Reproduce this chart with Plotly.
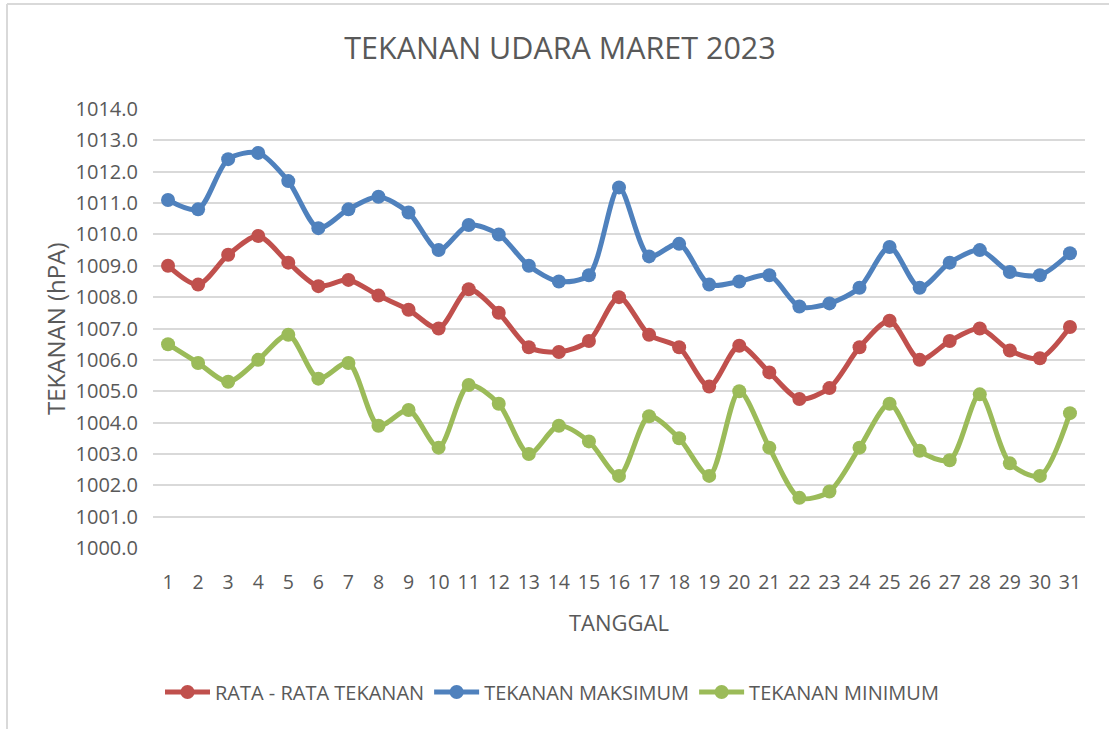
import plotly.graph_objects as go

days = list(range(1, 32))
tick_labels = [str(d) for d in days]

rata_rata = [1009.0, 1008.4, 1009.35, 1009.95, 1009.1, 1008.35, 1008.55, 1008.05, 1007.6, 1007.0,
             1008.25, 1007.5, 1006.4, 1006.25, 1006.6, 1008.0, 1006.8, 1006.4, 1005.15, 1006.45,
             1005.6, 1004.75, 1005.1, 1006.4, 1007.25, 1006.0, 1006.6, 1007.0, 1006.3, 1006.05, 1007.05]
maksimum = [1011.1, 1010.8, 1012.4, 1012.6, 1011.7, 1010.2, 1010.8, 1011.2, 1010.7, 1009.5,
            1010.3, 1010.0, 1009.0, 1008.5, 1008.7, 1011.5, 1009.3, 1009.7, 1008.4, 1008.5,
            1008.7, 1007.7, 1007.8, 1008.3, 1009.6, 1008.3, 1009.1, 1009.5, 1008.8, 1008.7, 1009.4]
minimum = [1006.5, 1005.9, 1005.3, 1006.0, 1006.8, 1005.4, 1005.9, 1003.9, 1004.4, 1003.2,
           1005.2, 1004.6, 1003.0, 1003.9, 1003.4, 1002.3, 1004.2, 1003.5, 1002.3, 1005.0,
           1003.2, 1001.6, 1001.8, 1003.2, 1004.6, 1003.1, 1002.8, 1004.9, 1002.7, 1002.3, 1004.3]

series = [
    ("RATA - RATA TEKANAN", rata_rata, "#C0504D"),
    ("TEKANAN MAKSIMUM", maksimum, "#4F81BD"),
    ("TEKANAN MINIMUM", minimum, "#9BBB59"),
]

FONT = "Open Sans, Liberation Sans, DejaVu Sans, sans-serif"
GREY = "#595959"

fig = go.Figure()
for name, vals, color in series:
    fig.add_trace(go.Scatter(
        x=days, y=vals, name=name, mode="lines+markers",
        line=dict(color=color, width=5, shape="spline", smoothing=0.8),
        marker=dict(color=color, size=14),
    ))

W, H = 1109, 729
PL, PR, PT, PB = 153, 1085, 109, 548          # plot area in page pixels
L, R, T, B = PL, W - PR, PT, H - PB
pw, ph = W - L - R, H - T - B

def px_x(x):
    return (x - L) / pw

def px_y(y):
    return (H - B - y) / ph

fig.update_layout(
    width=W, height=H,
    margin=dict(l=L, r=R, t=T, b=B),
    paper_bgcolor="white", plot_bgcolor="white",
    font=dict(family=FONT, color=GREY, size=19),
    title=dict(text="TEKANAN UDARA MARET 2023", x=560 / W, xref="container", xanchor="center",
               y=1 - 48 / H, yref="container", yanchor="middle",
               font=dict(size=30.5, color=GREY, family=FONT)),
    xaxis=dict(range=[0.5, 31.5], tickmode="array", tickvals=days, ticktext=tick_labels,
               showgrid=False, zeroline=False, showline=False, ticks="",
               ticklabelstandoff=20, tickfont=dict(size=19.5, color=GREY)),
    yaxis=dict(range=[1000, 1014], dtick=1, tick0=1000, tickformat=".1f",
               showgrid=True, gridcolor="#D9D9D9", gridwidth=1.5, zeroline=False,
               showline=False, ticks="", ticklabelstandoff=14,
               tickfont=dict(size=20, color=GREY)),
    showlegend=True,
    legend=dict(orientation="h", xref="container", yref="container",
                x=552 / W, xanchor="center", y=1 - 692 / H, yanchor="middle",
                font=dict(size=20, color=GREY), itemwidth=45, tracegroupgap=0,
                bgcolor="rgba(0,0,0,0)"),
    annotations=[
        dict(text="TEKANAN (hPA)", textangle=-90, xref="paper", yref="paper",
             x=px_x(55), y=px_y(329), showarrow=False, xanchor="center", yanchor="middle",
             font=dict(size=24, color=GREY)),
        dict(text="TANGGAL", xref="paper", yref="paper",
             x=px_x(619), y=px_y(622), showarrow=False, xanchor="center", yanchor="middle",
             font=dict(size=22, color=GREY)),
    ],
    shapes=[
        dict(type="line", xref="paper", yref="paper", x0=px_x(7), x1=px_x(1120),
             y0=px_y(4), y1=px_y(4), line=dict(color="#D9D9D9", width=2), layer="below"),
        dict(type="line", xref="paper", yref="paper", x0=px_x(7), x1=px_x(7),
             y0=px_y(4), y1=px_y(740), line=dict(color="#D9D9D9", width=2), layer="below"),
    ],
)

fig.write_html("out.html",
               config={"displayModeBar": False},
               post_script="document.body.style.margin='0';document.body.style.overflow='hidden';")
